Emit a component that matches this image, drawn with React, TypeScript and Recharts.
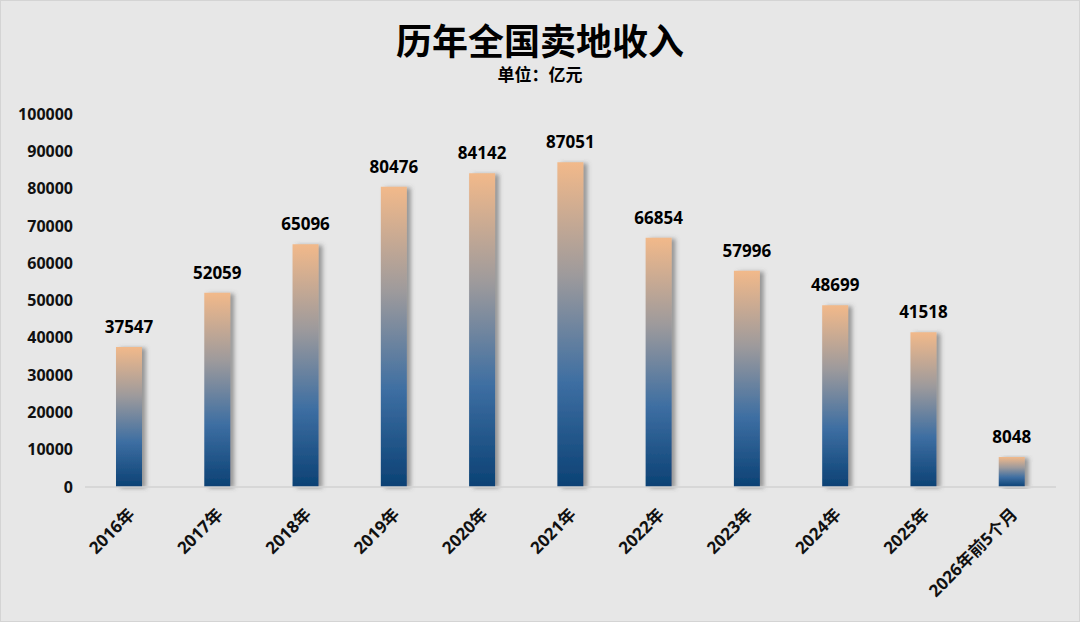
import React from 'react';
import { BarChart, Bar, XAxis, YAxis, LabelList } from 'recharts';

const years = [
   '2016年',
   '2017年',
   '2018年',
   '2019年',
   '2020年',
   '2021年',
   '2022年',
   '2023年',
   '2024年',
   '2025年',
   '2026年前5个月'
];
const income = [37547, 52059, 65096, 80476, 84142, 87051, 66854, 57996, 48699, 41518, 8048];
const yTicks = [0, 10000, 20000, 30000, 40000, 50000, 60000, 70000, 80000, 90000, 100000];

const data = years.map((year, i) => ({ year, income: income[i] }));

const FONT = '"Open Sans", "Noto Sans CJK SC", sans-serif';

const XTick = (props: any) => {
   const { x, y, payload } = props;
   return (
      <g transform={`translate(${x + 2},${y + 16})`}>
         <text
            transform="rotate(-45)"
            textAnchor="end"
            dominantBaseline="central"
            fontSize={17}
            fontWeight={700}
            fill="#111"
            fontFamily={FONT}>
            {payload.value}
         </text>
      </g>
   );
};

const App = () => (
   <div
      style={{
         position: 'absolute',
         left: 0,
         top: 0,
         width: 1080,
         height: 622,
         background: '#e7e7e7',
         fontFamily: FONT,
         boxSizing: 'border-box',
         border: '1px solid #d4d4d4'
      }}>
      <div
         style={{
            position: 'absolute',
            top: 21,
            width: '100%',
            textAlign: 'center',
            fontSize: 36,
            fontWeight: 700,
            lineHeight: '40px',
            color: '#000'
         }}>
         历年全国卖地收入
      </div>
      <div
         style={{
            position: 'absolute',
            top: 64,
            width: '100%',
            textAlign: 'center',
            fontSize: 17,
            fontWeight: 700,
            lineHeight: '20px',
            color: '#000'
         }}>
         单位：亿元
      </div>
      <BarChart
         width={1078}
         height={620}
         data={data}
         barSize={26}
         margin={{ top: 113, right: 23, bottom: 0, left: 0 }}
         style={{ position: 'absolute', left: 0, top: 0 }}>
         <defs>
            <linearGradient id="barFill" x1="0" y1="0" x2="0" y2="1">
               <stop offset="0%" stopColor="#f2b98a" />
               <stop offset="35%" stopColor="#9d9a9c" />
               <stop offset="68%" stopColor="#3d6ea2" />
               <stop offset="100%" stopColor="#0b4174" />
            </linearGradient>
            <filter id="barShadow" x="-20%" y="-5%" width="160%" height="110%">
               <feDropShadow dx="4" dy="1" stdDeviation="2" floodColor="#555" floodOpacity="0.55" />
            </filter>
         </defs>
         <XAxis
            dataKey="year"
            interval={0}
            height={134}
            tickLine={false}
            axisLine={{ stroke: '#d2d2d2', strokeWidth: 1.5 }}
            tick={<XTick />}
         />
         <YAxis
            width={84}
            domain={[0, 100000]}
            ticks={yTicks}
            interval={0}
            axisLine={false}
            tickLine={false}
            tickMargin={6}
            tick={{ fontSize: 16, fontWeight: 700, fill: '#111', fontFamily: FONT }}
         />
         <Bar
            dataKey="income"
            fill="url(#barFill)"
            filter="url(#barShadow)"
            isAnimationActive={false}>
            <LabelList
               dataKey="income"
               position="top"
               offset={14}
               fontSize={17}
               fontWeight={700}
               fill="#000"
               fontFamily={FONT}
            />
         </Bar>
      </BarChart>
   </div>
);

export default App;
